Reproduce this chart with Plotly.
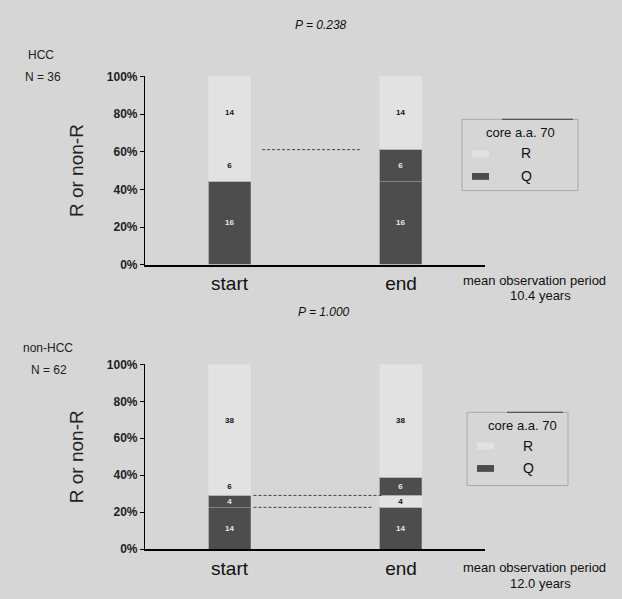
import plotly.graph_objects as go

W, H = 622, 599
FONT = "Liberation Sans, Arial, sans-serif"

# ---------------- data ----------------
periods = ["start", "end"]

# HCC (N = 36): stacked segments bottom -> top, counts per period
hcc_N = 36
hcc_counts = [[16, 16], [6, 6], [14, 14]]
hcc_types = [["Q", "Q"], ["R", "Q"], ["R", "R"]]

# non-HCC (N = 62)
non_N = 62
non_counts = [[14, 14], [4, 4], [6, 6], [38, 38]]
non_types = [["Q", "Q"], ["Q", "R"], ["R", "Q"], ["R", "R"]]

p_values = ["P = 0.238", "P = 1.000"]
obs_period = ["10.4 years", "12.0 years"]
group_labels = [["HCC", "N = 36"], ["non-HCC", "N = 62"]]
y_ticks = [0, 20, 40, 60, 80, 100]
y_tick_text = ["0%", "20%", "40%", "60%", "80%", "100%"]

# ---------------- style ----------------
BG = "#d6d6d6"
COL = {"Q": "#4d4d4d", "R": "#e2e2e2"}
TXT = {"Q": "#e8e8e8", "R": "#111111"}
LINE = {"Q": "#8a8a8a", "R": "#e2e2e2"}


def px(x):
    return x / W


def py(y):
    return 1 - y / H


# pixel geometry of the two panels
panels = [
    dict(top=71, bottom=264, xa="x", ya="y"),
    dict(top=366, bottom=555, xa="x2", ya="y2"),
]
AX_L, AX_R = 145, 485
C0, C1 = 229.5, 401.0
unit = C1 - C0
BW = 42 / unit
xr = [-(C0 - AX_L) / unit, 1 + (AX_R - C1) / unit]

fig = go.Figure()

datasets = [(hcc_counts, hcc_types, hcc_N), (non_counts, non_types, non_N)]
for pi, (counts, types, N) in enumerate(datasets):
    p = panels[pi]
    for seg, tys in zip(counts, types):
        vals = [c / N * 100 for c in seg]
        fig.add_trace(go.Bar(
            x=periods, y=vals, width=BW,
            marker=dict(color=[COL[t] for t in tys],
                        line=dict(width=0.6, color=[LINE[t] for t in tys])),
            text=[str(c) for c in seg], textposition="inside", textangle=0,
            insidetextanchor="middle", constraintext="none",
            textfont=dict(size=8, color=[TXT[t] for t in tys], family=FONT, weight="bold"),
            xaxis=p["xa"], yaxis=p["ya"], showlegend=False, hoverinfo="skip",
        ))

layout_axes = {}
for pi, p in enumerate(panels):
    sfx = "" if pi == 0 else "2"
    layout_axes["xaxis" + sfx] = dict(
        domain=[px(AX_L), px(AX_R)], anchor="y" + sfx, range=xr,
        type="category", showline=True, linecolor="black", linewidth=1.5,
        ticks="", showgrid=False, zeroline=False,
        tickfont=dict(size=19, family=FONT, color="#111"), ticklabelstandoff=1,
    )
    layout_axes["yaxis" + sfx] = dict(
        domain=[py(p["bottom"]), py(p["top"])], anchor="x" + sfx, range=[0, 100],
        tickvals=y_ticks, ticktext=y_tick_text, showline=True, linecolor="black",
        linewidth=1.2, ticks="outside", ticklen=4, tickcolor="black",
        showgrid=False, zeroline=False,
        tickfont=dict(size=12, family=FONT, color="#222", weight="bold"),
        title=dict(text="R or non-R", font=dict(size=19, family=FONT, color="#222"), standoff=18),
    )

shapes = []
annotations = []


def ann(x, y, text, size, color="#111", **kw):
    annotations.append(dict(xref="paper", yref="paper", x=px(x), y=py(y), text=text,
                            showarrow=False, xanchor="center", yanchor="middle",
                            font=dict(size=size, family=FONT, color=color), **kw))


for pi, (counts, types, N) in enumerate(datasets):
    p = panels[pi]
    xa, ya = p["xa"], p["ya"]
    # dashed connector lines at boundaries between segments (from start-bar to end-bar)
    cum = 0
    bounds = []
    for seg, tys in zip(counts, types):
        cum += seg[0]
        bounds.append(cum / N * 100)
    if pi == 0:
        lines = [(bounds[1], 0.19, 0.76)]
    else:
        lines = [(bounds[1], 0.14, 0.89), (bounds[0], 0.14, 0.83)]
    for yv, x0, x1 in lines:
        shapes.append(dict(type="line", xref=xa, yref=ya, x0=x0, x1=x1, y0=yv, y1=yv,
                           line=dict(color="#444", width=1, dash="3px,2px")))
    # p-value bracket
    ph = p["bottom"] - p["top"]
    ybr = 100 + (p["top"] - (35 if pi == 0 else 329)) / ph * 100
    shapes.append(dict(type="line", xref=xa, yref=ya, x0=0, x1=1 if pi == 0 else 0.95,
                       y0=ybr, y1=ybr, line=dict(color="#111", width=1.2)))
    shapes.append(dict(type="line", xref=xa, yref=ya, x0=1 if pi == 0 else 1.01,
                       x1=1 if pi == 0 else 1.01, y0=ybr, y1=100 if pi == 0 else 103,
                       line=dict(color="#555", width=1, dash="dot")))
    if pi == 0:
        shapes.append(dict(type="line", xref=xa, yref=ya, x0=0, x1=0, y0=ybr, y1=100,
                           line=dict(color="#aaa", width=0.8, dash="dot")))
    ann(321 if pi == 0 else 324, 18 if pi == 0 else 312, "<i>" + p_values[pi] + "</i>", 12)
    # group labels
    gl = group_labels[pi]
    ann(41 if pi == 0 else 48, 49 if pi == 0 else 349, gl[0], 12, "#222")
    ann(43 if pi == 0 else 49, 72 if pi == 0 else 372, gl[1], 12, "#222")
    # mean observation period
    ann(534, 280 if pi == 0 else 574, "mean observation period", 13)
    ann(540, 295 if pi == 0 else 590, obs_period[pi], 13)

# legend boxes (custom)
legends = [
    dict(x0=462, x1=578, y0=115, y1=188, title_y=129, r_y=150, q_y=173, tx=524, sw=(472, 489)),
    dict(x0=467, x1=568, y0=415, y1=490, title_y=429, r_y=449, q_y=472, tx=526, sw=(477, 494)),
]
for lg in legends:
    shapes.append(dict(type="rect", xref="paper", yref="paper", x0=px(lg["x0"]), x1=px(lg["x1"]),
                       y0=py(lg["y1"]), y1=py(lg["y0"]), line=dict(color="#a8a8a8", width=1),
                       fillcolor="rgba(0,0,0,0)"))
    shapes.append(dict(type="line", xref="paper", yref="paper", x0=px(lg["x0"] + 40),
                       x1=px(lg["x1"] - 5), y0=py(lg["y0"]), y1=py(lg["y0"]),
                       line=dict(color="#555", width=1.2)))
    ann(lg["tx"] - 4, lg["title_y"], "core a.a. 70", 13)
    ann(lg["tx"] + 2, lg["r_y"], "R", 14)
    ann(lg["tx"] + 2, lg["q_y"], "Q", 14)
    shapes.append(dict(type="rect", xref="paper", yref="paper", x0=px(lg["sw"][0]), x1=px(lg["sw"][1]),
                       y0=py(lg["r_y"] + 4), y1=py(lg["r_y"] - 3), line=dict(width=0),
                       fillcolor=COL["R"]))
    shapes.append(dict(type="rect", xref="paper", yref="paper", x0=px(lg["sw"][0]), x1=px(lg["sw"][1]),
                       y0=py(lg["q_y"] + 4), y1=py(lg["q_y"] - 3), line=dict(width=0),
                       fillcolor=COL["Q"]))

fig.update_layout(
    width=W, height=H, autosize=False,
    margin=dict(l=0, r=0, t=0, b=0),
    paper_bgcolor=BG, plot_bgcolor=BG,
    barmode="stack", bargap=0,
    font=dict(family=FONT),
    shapes=shapes, annotations=annotations,
    showlegend=False,
    **layout_axes,
)

fig.write_html(
    "out.html",
    config={"responsive": False, "displayModeBar": False},
    post_script="document.body.style.margin='0px';document.body.style.overflow='hidden';",
)
